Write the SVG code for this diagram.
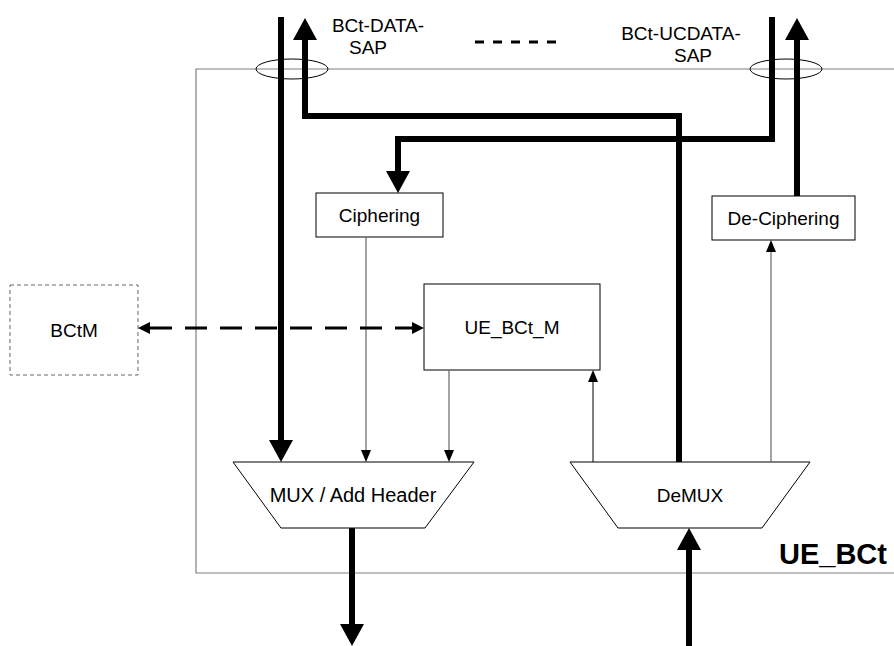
<svg xmlns="http://www.w3.org/2000/svg" width="894" height="646" viewBox="0 0 894 646">
<style>
  .box { fill: #ffffff; stroke: #000000; stroke-width: 1; }
  .frame { fill: none; stroke: #808080; stroke-width: 1.2; }
  .thick { fill: none; stroke: #000000; stroke-width: 6; }
  .thin { fill: none; stroke: #000000; stroke-width: 1; }
  .gthin { fill: none; stroke: #666666; stroke-width: 1.2; }
  .dash { fill: none; stroke: #000000; stroke-width: 3; stroke-dasharray: 22 13; }
  .lbl { font-family: "Liberation Sans", Arial, sans-serif; font-size: 19px; fill: #000000; text-anchor: middle; }
  .big { font-family: "Liberation Sans", Arial, sans-serif; font-size: 29px; font-weight: bold; fill: #000000; }
</style>
<defs>
  <marker id="ah" viewBox="0 0 22 24" markerWidth="22" markerHeight="24" markerUnits="userSpaceOnUse" refX="0" refY="12" orient="auto">
    <path d="M0,0 L22,12 L0,24 z" fill="#000000"/>
  </marker>
  <marker id="at" viewBox="0 0 12 10" markerWidth="12" markerHeight="10" markerUnits="userSpaceOnUse" refX="0" refY="5" orient="auto">
    <path d="M0,0 L12,5 L0,10 z" fill="#000000"/>
  </marker>
  <marker id="ad" viewBox="0 0 12 12" markerWidth="12" markerHeight="12" markerUnits="userSpaceOnUse" refX="0" refY="6" orient="auto-start-reverse">
    <path d="M0,0 L12,6 L0,12 z" fill="#000000"/>
  </marker>
</defs>

<g id="frame">
  <path class="frame" d="M900,69 H196 V573 H900"/>
  <ellipse cx="292" cy="69" rx="36" ry="10" fill="none" stroke="#000000" stroke-width="1"/>
  <ellipse cx="786" cy="69" rx="36" ry="10" fill="none" stroke="#000000" stroke-width="1"/>
  <text class="big" x="779" y="564">UE_BCt</text>
</g>

<g id="sap-labels">
  <text class="lbl" x="378" y="32">BCt-DATA-</text>
  <text class="lbl" x="368" y="54">SAP</text>
  <text class="lbl" x="681" y="40">BCt-UCDATA-</text>
  <text class="lbl" x="693" y="62">SAP</text>
  <line x1="475" y1="42" x2="558" y2="42" stroke="#000000" stroke-width="3" stroke-dasharray="9 9"/>
</g>

<g id="ciphering">
  <rect class="box" x="316" y="193" width="127" height="44"/>
  <text class="lbl" x="379.5" y="222">Ciphering</text>
</g>
<g id="deciphering">
  <rect class="box" x="712" y="196" width="143" height="44"/>
  <text class="lbl" x="783.5" y="225">De-Ciphering</text>
</g>
<g id="ue_bct_m">
  <rect class="box" x="424" y="284" width="176" height="86" stroke="#555555"/>
  <text class="lbl" x="512" y="334">UE_BCt_M</text>
</g>
<g id="bctm">
  <rect x="10" y="285" width="128" height="90" fill="#ffffff" stroke="#666666" stroke-width="1" stroke-dasharray="4 3"/>
  <text class="lbl" x="74" y="337">BCtM</text>
</g>
<g id="mux">
  <polygon class="box" points="233,462 474,462 425,528 281,528"/>
  <text class="lbl" x="353" y="502" style="font-size:20px">MUX / Add Header</text>
</g>
<g id="demux">
  <polygon class="box" points="570,462 810,462 762,528 618,528"/>
  <text class="lbl" x="690" y="502">DeMUX</text>
</g>

<g id="connectors">
  <path class="thick" d="M281,17 V440" marker-end="url(#ah)"/>
  <path class="thick" d="M679,462 V116 H305 V40" marker-end="url(#ah)"/>
  <path class="thick" d="M772,17 V139 H398 V171" marker-end="url(#ah)"/>
  <path class="thick" d="M797,196 V40" marker-end="url(#ah)"/>
  <path class="thick" d="M352,528 V624" marker-end="url(#ah)"/>
  <path class="thick" d="M689,646 V550" marker-end="url(#ah)"/>
  <path class="gthin" d="M366,237 V450" marker-end="url(#at)"/>
  <path class="gthin" d="M449,370 V450" marker-end="url(#at)"/>
  <path class="thin" d="M593,462 V382" marker-end="url(#at)"/>
  <path class="gthin" d="M771,462 V252" marker-end="url(#at)"/>
  <path class="dash" d="M150,328 H412" marker-start="url(#ad)" marker-end="url(#ad)"/>
</g>
</svg>
